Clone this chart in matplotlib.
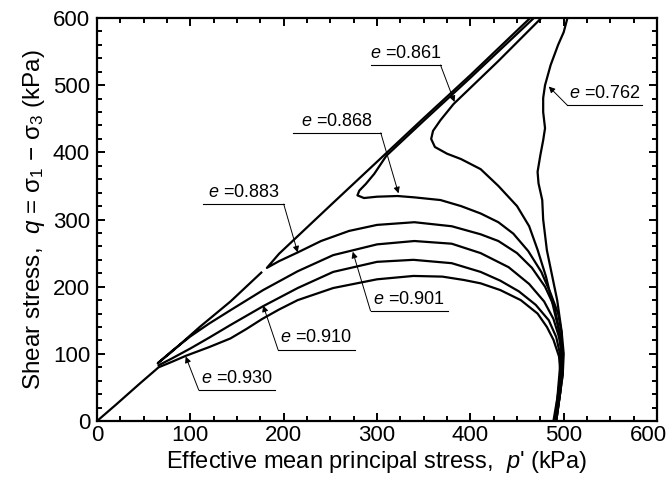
import matplotlib
matplotlib.use("Agg")
import matplotlib.pyplot as plt
from matplotlib.ticker import MultipleLocator, FuncFormatter

plt.rcParams['font.family'] = ['Liberation Sans', 'DejaVu Sans']
plt.rcParams['mathtext.fontset'] = 'custom'
plt.rcParams['mathtext.rm'] = 'Liberation Sans'
plt.rcParams['mathtext.it'] = 'Liberation Sans:italic'

# stress paths (p', q) in kPa
p_930 = [489, 494, 496.5, 495, 489, 482, 472, 454, 432, 411, 393, 370, 339, 300, 253, 215, 195, 177, 160, 143, 120, 95, 80, 66, 46, 20, 0]
q_930 = [0, 41, 71, 96, 121, 140, 160, 180, 195, 205, 210, 215, 216, 211, 198, 180, 166, 152, 137, 123, 110, 97, 88, 80, 56, 24, 0]

p_910 = [490, 495, 497, 496, 492, 484, 470, 452, 432, 411, 380, 339, 300, 253, 215, 178, 143, 120, 100, 80, 66]
q_910 = [0, 40, 70, 100, 125, 150, 173, 193, 209, 222, 235, 240, 237, 222, 198, 171, 143, 124, 108, 93, 83]

p_901 = [491, 496, 498, 498, 495, 489, 479, 463, 441, 411, 380, 340, 300, 253, 215, 178, 143, 120, 100, 80, 65, 80, 110, 143, 176]
q_901 = [0, 40, 70, 100, 125, 152, 178, 204, 229, 250, 264, 268, 263, 247, 223, 195, 165, 145, 126, 104, 86, 103, 140, 178, 221]

p_883 = [492, 496, 499, 499, 496, 490, 480, 466, 450, 430, 411, 380, 340, 300, 270, 240, 215, 195, 182, 195, 250, 300, 350, 400, 464]
q_883 = [0, 40, 70, 100, 130, 170, 200, 228, 250, 268, 278, 290, 296, 292, 283, 268, 251, 238, 228, 249, 321, 386, 451, 515, 600]

p_868 = [492, 496, 499, 500, 498, 494, 486, 476, 462, 446, 430, 411, 390, 368, 340, 322, 300, 286, 279, 281, 288, 297, 310, 350, 400, 468]
q_868 = [0, 40, 70, 100, 130, 160, 190, 222, 253, 279, 296, 309, 320, 329, 333, 335, 334, 332, 336, 343, 353, 368, 395, 447, 511, 600]

p_861 = [492, 496, 498, 497, 494, 488, 481, 472, 463, 450, 430, 411, 390, 375, 362, 358, 360, 368, 382, 400, 430, 476]
q_861 = [0, 40, 80, 110, 140, 175, 215, 255, 290, 320, 350, 375, 390, 398, 408, 420, 432, 448, 472, 496, 536, 600]

p_762 = [491, 493, 496, 498, 493, 482, 478, 477, 473, 472, 475, 478, 480, 478, 478, 480, 486, 494, 500, 504]
q_762 = [0, 31, 80, 131, 180, 254, 300, 329, 354, 371, 396, 418, 436, 460, 481, 500, 530, 560, 579, 600]

labels = ["0.861", "0.868", "0.883", "0.762", "0.901", "0.910", "0.930"]

fig = plt.figure(figsize=(6.71, 4.86), dpi=100)
ax = fig.add_axes([0.1446, 0.1337, 0.8346, 0.8292])

for p, q in [(p_930, q_930), (p_910, q_910), (p_901, q_901), (p_883, q_883),
             (p_868, q_868), (p_861, q_861), (p_762, q_762)]:
    ax.plot(p, q, color='black', lw=1.6, solid_joinstyle='round')

# label boxes: underline x0, x1, y, which end the leader starts from, arrow tip
ann = [
    (293, 368, 530, 1, (383, 475)),
    (210, 304, 429, 1, (323, 339)),
    (114, 200, 323, 1, (215, 251)),
    (504, 584, 470, 0, (484, 498)),
    (293, 376, 164, 0, (274, 252)),
    (194, 276, 106, 0, (178, 172)),
    (109, 191, 46, 0, (95, 96)),
]
for lab, (x0, x1, y, side, tip) in zip(labels, ann):
    ax.plot([x0, x1], [y, y], color='black', lw=0.8)
    start = (x1, y) if side else (x0, y)
    ax.annotate("", xy=tip, xytext=start,
                arrowprops=dict(arrowstyle='-|>', color='black', lw=0.7,
                                mutation_scale=9, shrinkA=0, shrinkB=0))
    ax.text((x0 + x1) / 2, y + 5, "$e$ =" + lab, ha='center', va='bottom', fontsize=13)

ax.set_xlim(0, 600)
ax.set_ylim(0, 600)
ax.xaxis.set_major_locator(MultipleLocator(100))
ax.xaxis.set_minor_locator(MultipleLocator(25))
ax.yaxis.set_major_locator(MultipleLocator(100))
ax.yaxis.set_minor_locator(MultipleLocator(20))
# the last x label is drawn by hand a bit to the left so it stays in the picture
ax.xaxis.set_major_formatter(FuncFormatter(lambda v, pos: "" if v >= 600 else "%d" % v))
ax.tick_params(which='both', direction='in', top=True, right=True, width=1.4)
ax.tick_params(which='major', length=6, labelsize=16)
ax.tick_params(axis='x', which='major', pad=3)
ax.tick_params(axis='y', which='major', pad=5)
ax.tick_params(which='minor', length=3.5)
for s in ax.spines.values():
    s.set_linewidth(1.6)
ax.annotate("600", xy=(1, 0), xycoords='axes fraction', xytext=(-6, -3),
            textcoords='offset points', ha='center', va='top', fontsize=16)

ax.set_xlabel("Effective mean principal stress,  $p$' (kPa)", fontsize=17, labelpad=2)
ax.set_ylabel("Shear stress,  $q$ = σ$_1$ − σ$_3$ (kPa)", fontsize=17.5, labelpad=4)

fig.savefig("out.png", dpi=100)
